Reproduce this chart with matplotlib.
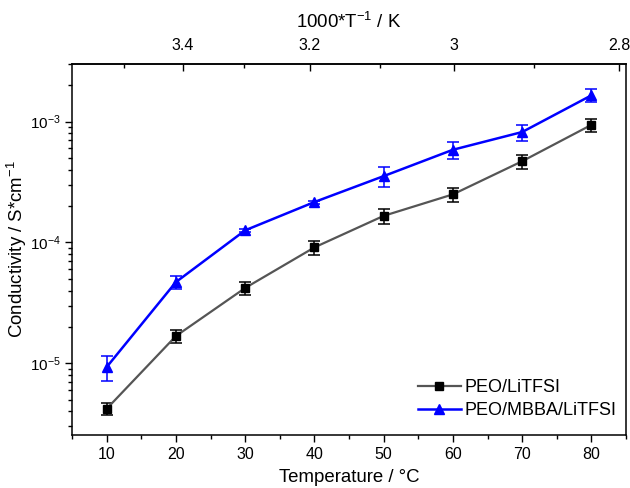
import numpy as np
import matplotlib
matplotlib.use("Agg")
import matplotlib.pyplot as plt
from matplotlib.lines import Line2D
from matplotlib.ticker import FixedLocator, FixedFormatter, MultipleLocator, LogLocator, NullFormatter

plt.rcParams['font.family'] = ['Liberation Sans', 'DejaVu Sans']
plt.rcParams['mathtext.fontset'] = 'custom'
plt.rcParams['mathtext.rm'] = 'Liberation Sans'
plt.rcParams['mathtext.it'] = 'Liberation Sans:italic'

# data
temps = [10, 20, 30, 40, 50, 60, 70, 80]
peo_litfsi = [4.2e-6, 1.68e-5, 4.2e-5, 9.1e-5, 1.66e-4, 2.5e-4, 4.7e-4, 9.4e-4]
peo_litfsi_err = [0.5e-6, 2.2e-6, 5.5e-6, 1.2e-5, 2.3e-5, 3.3e-5, 6.3e-5, 1.15e-4]
peo_mbba = [9.3e-6, 4.7e-5, 1.26e-4, 2.16e-4, 3.54e-4, 5.85e-4, 8.2e-4, 1.65e-3]
peo_mbba_err = [2.1e-6, 5.5e-6, 3e-6, 6e-6, 6.5e-5, 9.5e-5, 1.25e-4, 2.1e-4]

top_ticks = [3.4, 3.2, 3.0, 2.8]
top_labels = ['3.4', '3.2', '3', '2.8']
top_minor = [3.5, 3.3, 3.1, 2.9]

fig = plt.figure(figsize=(6.3, 4.88), dpi=100)
ax = fig.add_axes([0.1143, 0.1086, 0.8794, 0.7603])

ax.errorbar(temps, peo_litfsi, yerr=peo_litfsi_err, color='#555555', lw=1.6,
            marker='s', ms=5.5, mfc='black', mec='black', ecolor='black',
            elinewidth=1.1, capsize=4, capthick=1.1)
ax.errorbar(temps, peo_mbba, yerr=peo_mbba_err, color='#0000ff', lw=1.8,
            marker='^', ms=6.5, mfc='#0000ff', mec='#0000ff', ecolor='#0000ff',
            elinewidth=1.1, capsize=4, capthick=1.1)

ax.set_yscale('log')
ax.set_xlim(5, 85)
ax.set_ylim(2.55e-6, 3.0e-3)

ax.xaxis.set_major_locator(MultipleLocator(10))
ax.xaxis.set_minor_locator(MultipleLocator(5))
ax.yaxis.set_major_locator(LogLocator(base=10, numticks=10))
ax.yaxis.set_minor_locator(LogLocator(base=10, subs=np.arange(2, 10), numticks=10))
ax.yaxis.set_minor_formatter(NullFormatter())

ax.tick_params(axis='both', which='major', direction='out', length=5, width=1, labelsize=11.5)
ax.tick_params(axis='y', which='major', pad=3, labelsize=11)
ax.tick_params(axis='both', which='minor', direction='out', length=3, width=1)
for s in ax.spines.values():
    s.set_linewidth(1.1)

ax.set_xlabel('Temperature / °C', fontsize=13.4, labelpad=5)
ax.set_ylabel('Conductivity / S*cm$^{-1}$', fontsize=13.4, labelpad=1)


def to_inv(t):
    t = np.asarray(t, dtype=float)
    return 1000.0 / (t + 273.15)


def from_inv(v):
    v = np.asarray(v, dtype=float)
    return 1000.0 / v - 273.15


sec = ax.secondary_xaxis('top', functions=(to_inv, from_inv))
sec.xaxis.set_major_locator(FixedLocator(top_ticks))
sec.xaxis.set_major_formatter(FixedFormatter(top_labels))
sec.xaxis.set_minor_locator(FixedLocator(top_minor))
sec.tick_params(axis='x', which='major', direction='in', length=5, width=1, labelsize=11.5, pad=8)
sec.tick_params(axis='x', which='minor', direction='in', length=3, width=1)
sec.set_xlabel('1000*T$^{-1}$ / K', fontsize=13.4, labelpad=7)
sec.spines['top'].set_linewidth(1.1)

handles = [
    Line2D([], [], color='#555555', lw=1.6, marker='s', ms=5.5, mfc='black', mec='black'),
    Line2D([], [], color='#0000ff', lw=1.8, marker='^', ms=6.5, mfc='#0000ff', mec='#0000ff'),
]
ax.legend(handles, ['PEO/LiTFSI', 'PEO/MBBA/LiTFSI'], loc='lower right', frameon=False,
          fontsize=13, handlelength=2.4, handletextpad=0.2, labelspacing=0.3,
          borderaxespad=0, bbox_to_anchor=(0.996, 0.024))

fig.savefig('out.png', dpi=100)
